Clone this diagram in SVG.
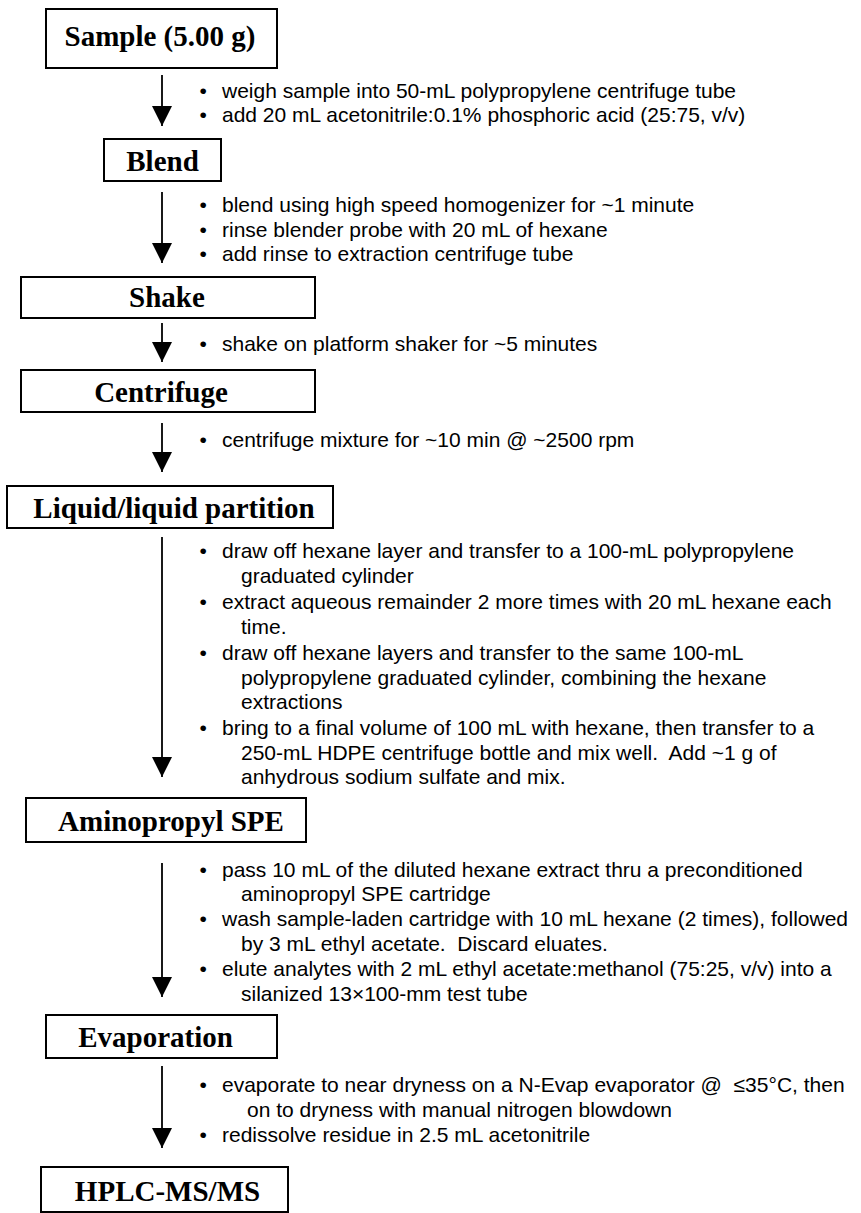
<svg xmlns="http://www.w3.org/2000/svg" width="861" height="1213" viewBox="0 0 861 1213">
<style>
.box{fill:#fff;stroke:#000;stroke-width:2}
.title{font-family:"Liberation Serif","Times New Roman",serif;font-weight:bold;font-size:29px;fill:#000;text-anchor:middle}
.t{font-family:"Liberation Sans",Arial,sans-serif;font-size:21px;fill:#000;white-space:pre}
.conn{stroke:#000;stroke-width:1.8;fill:none;marker-end:url(#ah)}
</style>
<defs>
<marker id="ah" markerUnits="userSpaceOnUse" markerWidth="20" markerHeight="20" refX="20" refY="10" orient="auto" viewBox="0 0 20 20"><path d="M0,0 L20,10 L0,20 z" fill="#000"/></marker>
</defs>
<rect x="0" y="0" width="861" height="1213" fill="#fff"/>

<g id="connectors">
<line class="conn" x1="162" y1="75" x2="162" y2="126"/>
<line class="conn" x1="162" y1="192" x2="162" y2="263"/>
<line class="conn" x1="162" y1="323" x2="162" y2="362"/>
<line class="conn" x1="162" y1="423" x2="162" y2="472"/>
<line class="conn" x1="162" y1="537" x2="162" y2="777"/>
<line class="conn" x1="162" y1="863" x2="162" y2="997"/>
<line class="conn" x1="162" y1="1066" x2="162" y2="1148"/>
</g>

<g id="node-sample"><rect class="box" x="46" y="9" width="231" height="59"/><text class="title" x="160" y="46">Sample (5.00 g)</text></g>
<g id="node-blend"><rect class="box" x="104" y="139" width="117" height="42"/><text class="title" x="162.5" y="171">Blend</text></g>
<g id="node-shake"><rect class="box" x="21" y="277" width="294" height="41"/><text class="title" x="167" y="307">Shake</text></g>
<g id="node-centrifuge"><rect class="box" x="21" y="370" width="294" height="42"/><text class="title" x="161" y="402">Centrifuge</text></g>
<g id="node-partition"><rect class="box" x="7" y="486" width="326" height="42"/><text class="title" x="174" y="518">Liquid/liquid partition</text></g>
<g id="node-spe"><rect class="box" x="26" y="798" width="280" height="44"/><text class="title" x="171" y="831">Aminopropyl SPE</text></g>
<g id="node-evap"><rect class="box" x="46" y="1015" width="231" height="43"/><text class="title" x="155.5" y="1047">Evaporation</text></g>
<g id="node-hplc"><rect class="box" x="41" y="1167" width="247" height="45"/><text class="title" x="167.5" y="1201">HPLC-MS/MS</text></g>

<g id="notes-1">
<text class="t" x="199.5" y="98">•</text><text class="t" x="222" y="98">weigh sample into 50-mL polypropylene centrifuge tube</text>
<text class="t" x="199.5" y="122">•</text><text class="t" x="222" y="122">add 20 mL acetonitrile:0.1% phosphoric acid (25:75, v/v)</text>
</g>
<g id="notes-2">
<text class="t" x="199.5" y="212">•</text><text class="t" x="222" y="212">blend using high speed homogenizer for ~1 minute</text>
<text class="t" x="199.5" y="236.5">•</text><text class="t" x="222" y="236.5">rinse blender probe with 20 mL of hexane</text>
<text class="t" x="199.5" y="261">•</text><text class="t" x="222" y="261">add rinse to extraction centrifuge tube</text>
</g>
<g id="notes-3">
<text class="t" x="199.5" y="351">•</text><text class="t" x="222" y="351">shake on platform shaker for ~5 minutes</text>
</g>
<g id="notes-4">
<text class="t" x="199.5" y="447">•</text><text class="t" x="222" y="447">centrifuge mixture for ~10 min @ ~2500 rpm</text>
</g>
<g id="notes-5">
<text class="t" x="199.5" y="558">•</text><text class="t" x="222" y="558">draw off hexane layer and transfer to a 100-mL polypropylene</text>
<text class="t" x="241" y="582.5">graduated cylinder</text>
<text class="t" x="199.5" y="609">•</text><text class="t" x="222" y="609">extract aqueous remainder 2 more times with 20 mL hexane each</text>
<text class="t" x="241" y="633.5">time.</text>
<text class="t" x="199.5" y="660">•</text><text class="t" x="222" y="660">draw off hexane layers and transfer to the same 100-mL</text>
<text class="t" x="241" y="684.5">polypropylene graduated cylinder, combining the hexane</text>
<text class="t" x="241" y="709">extractions</text>
<text class="t" x="199.5" y="735">•</text><text class="t" x="222" y="735">bring to a final volume of 100 mL with hexane, then transfer to a</text>
<text class="t" x="241" y="759.5">250-mL HDPE centrifuge bottle and mix well.  Add ~1 g of</text>
<text class="t" x="241" y="784">anhydrous sodium sulfate and mix.</text>
</g>
<g id="notes-6">
<text class="t" x="199.5" y="877">•</text><text class="t" x="222" y="877">pass 10 mL of the diluted hexane extract thru a preconditioned</text>
<text class="t" x="241" y="901">aminopropyl SPE cartridge</text>
<text class="t" x="199.5" y="926">•</text><text class="t" x="222" y="926">wash sample-laden cartridge with 10 mL hexane (2 times), followed</text>
<text class="t" x="241" y="950.5">by 3 mL ethyl acetate.  Discard eluates.</text>
<text class="t" x="199.5" y="976">•</text><text class="t" x="222" y="976">elute analytes with 2 mL ethyl acetate:methanol (75:25, v/v) into a</text>
<text class="t" x="241" y="1000.5">silanized 13×100-mm test tube</text>
</g>
<g id="notes-7">
<text class="t" x="199.5" y="1092">•</text><text class="t" x="222" y="1092">evaporate to near dryness on a N-Evap evaporator @  ≤35°C, then</text>
<text class="t" x="247" y="1116.5">on to dryness with manual nitrogen blowdown</text>
<text class="t" x="199.5" y="1142">•</text><text class="t" x="222" y="1142">redissolve residue in 2.5 mL acetonitrile</text>
</g>
</svg>
